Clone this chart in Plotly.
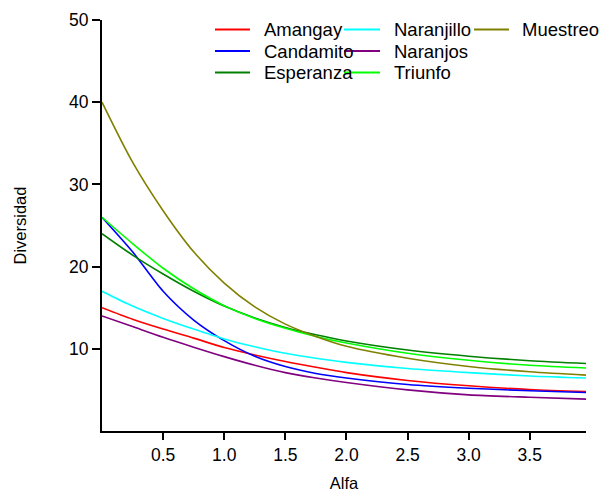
import plotly.graph_objects as go

alfa = [0, 0.25, 0.5, 0.75, 1.0, 1.25, 1.5, 1.75, 2.0, 2.5, 3.0, 3.5, 3.96]

amangay = [15, 13.6, 12.4, 11.3, 10.15, 9.25, 8.45, 7.75, 7.1, 6.15, 5.5, 5.05, 4.79]
candamito = [26, 21.8, 17.0, 13.5, 11.0, 9.1, 7.85, 7.0, 6.45, 5.65, 5.2, 4.9, 4.69]
esperanza = [24, 21.4, 19.1, 17.0, 15.2, 13.75, 12.6, 11.7, 10.95, 9.85, 9.1, 8.55, 8.21]
naranjillo = [17, 15.2, 13.7, 12.4, 11.2, 10.25, 9.45, 8.85, 8.35, 7.6, 7.1, 6.7, 6.45]
naranjos = [14, 12.7, 11.4, 10.2, 9.05, 8.0, 7.1, 6.45, 5.9, 5.0, 4.4, 4.1, 3.88]
triunfo = [26, 22.8, 19.8, 17.3, 15.25, 13.7, 12.5, 11.5, 10.7, 9.45, 8.6, 8.0, 7.67]
muestreo = [40, 32.7, 26.8, 21.8, 18.0, 15.1, 13.0, 11.5, 10.3, 8.85, 7.85, 7.2, 6.8]

names = ["Amangay", "Candamito", "Esperanza", "Naranjillo", "Naranjos", "Triunfo", "Muestreo"]
values = [amangay, candamito, esperanza, naranjillo, naranjos, triunfo, muestreo]
colors = ["#FF0000", "#0000FF", "#008000", "#00FFFF", "#800080", "#00FF00", "#808000"]

x_ticks = [0.5, 1.0, 1.5, 2.0, 2.5, 3.0, 3.5]
y_ticks = [10, 20, 30, 40, 50]

FONT = "Liberation Sans, Arial, sans-serif"

W, H = 603, 492
ml, mr, mt, mb = 102, 17, 20, 61
pw = W - ml - mr
ph = H - mt - mb


def px_x(px):
    return (px - ml) / pw


def px_y(py):
    return 1 - (py - mt) / ph


fig = go.Figure()
for name, vals, color in zip(names, values, colors):
    fig.add_trace(go.Scatter(
        x=alfa, y=vals, name=name, mode="lines",
        line=dict(color=color, width=1.6, shape="spline", smoothing=0.8),
        showlegend=False,
    ))

# manual legend laid out in columns (column-major, 3 rows)
col_line = [(215, 250), (344, 380), (474, 509)]
col_text = [262, 392, 520]
row_y = [29.5, 51, 72.5]
shapes = []
annotations = []
for i, (name, color) in enumerate(zip(names, colors)):
    c, r = divmod(i, 3)
    x0, x1 = col_line[c]
    yy = row_y[r]
    shapes.append(dict(type="line", xref="paper", yref="paper",
                       x0=px_x(x0), x1=px_x(x1), y0=px_y(yy), y1=px_y(yy),
                       line=dict(color=color, width=2)))
    annotations.append(dict(xref="paper", yref="paper", x=px_x(col_text[c]), y=px_y(yy + 0.5),
                            text=name, showarrow=False, xanchor="left", yanchor="middle",
                            font=dict(family=FONT, size=18.5, color="#000000")))

fig.update_layout(
    width=W, height=H,
    margin=dict(l=ml, r=mr, t=mt, b=mb, autoexpand=False),
    paper_bgcolor="white", plot_bgcolor="white",
    font=dict(family=FONT, size=17.5, color="#000000"),
    shapes=shapes, annotations=annotations,
    xaxis=dict(
        range=[0, 3.96], tickvals=x_ticks, tickformat=".1f",
        showgrid=False, zeroline=False,
        showline=True, linecolor="#000000", linewidth=2,
        ticks="outside", ticklen=7, tickwidth=2, tickcolor="#000000",
        tickfont=dict(family=FONT, size=17.5, color="#000000"),
        title=dict(text="Alfa", font=dict(family=FONT, size=16.5, color="#000000"), standoff=22),
    ),
    yaxis=dict(
        range=[0, 50], tickvals=y_ticks,
        showgrid=False, zeroline=False,
        showline=True, linecolor="#000000", linewidth=2,
        ticks="outside", ticklen=8, tickwidth=2, tickcolor="#000000",
        tickfont=dict(family=FONT, size=17.5, color="#000000"),
        title=dict(text="Diversidad", font=dict(family=FONT, size=16.5, color="#000000"), standoff=38),
    ),
)

fig.write_html("out.html")
